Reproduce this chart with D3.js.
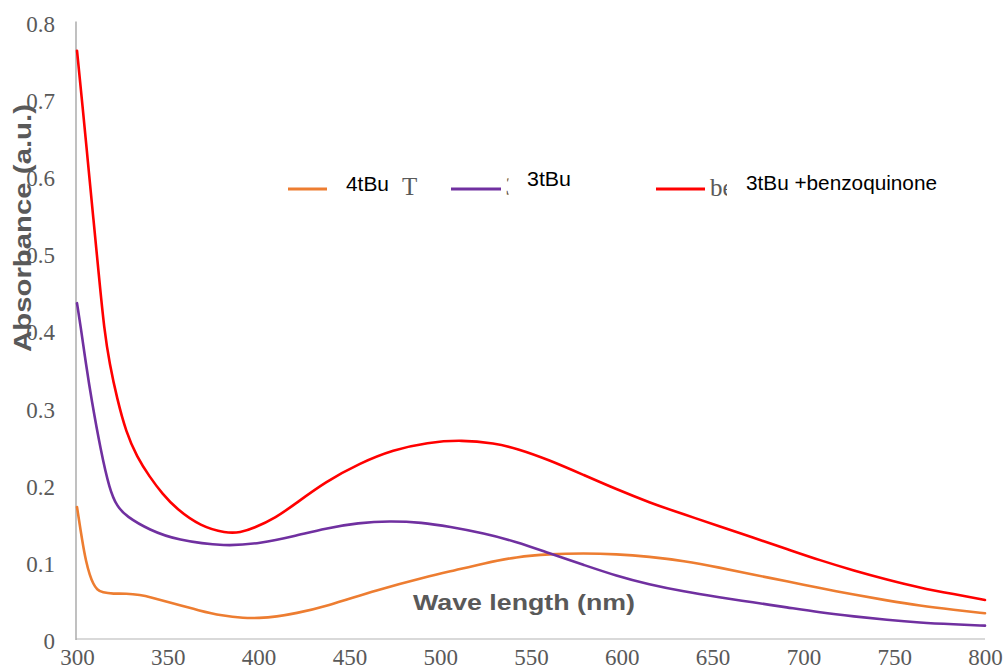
<!DOCTYPE html>
<html><head><meta charset="utf-8">
<script src="https://cdn.jsdelivr.net/npm/d3@7"></script>
<style>body{margin:0;background:#fff}svg{display:block}</style>
</head><body>
<svg id="chart" width="1003" height="670"></svg>
<script>
// ---- data ----
const xTicks = [300, 350, 400, 450, 500, 550, 600, 650, 700, 750, 800];
const yTicks = [0, 0.1, 0.2, 0.3, 0.4, 0.5, 0.6, 0.7, 0.8];
const yTickLabels = ["0", "0.1", "0.2", "0.3", "0.4", "0.5", "0.6", "0.7", "0.8"];

const seriesNames = ["4tBu", "3tBu", "3tBu +benzoquinone"];
const seriesColors = ["#ED7D31", "#7030A0", "#FF0000"];

const nm4tBu  = [300, 303, 305, 307, 309, 311, 314, 320, 327, 335, 340, 353, 367, 380, 392, 400, 410, 420, 437, 465, 493, 508, 524, 542, 560, 579, 597, 615, 634, 654, 672, 691, 709, 728, 746, 764, 783, 800];
const abs4tBu = [0.171, 0.125, 0.100, 0.083, 0.071, 0.064, 0.060, 0.0585, 0.059, 0.057, 0.0545, 0.046, 0.037, 0.030, 0.027, 0.027, 0.029, 0.033, 0.042, 0.0636, 0.081, 0.089, 0.098, 0.1065, 0.110, 0.111, 0.110, 0.1067, 0.1012, 0.0925, 0.0835, 0.0748, 0.066, 0.0574, 0.0499, 0.0432, 0.0378, 0.0333];

const nm3tBu  = [300, 302, 305, 308, 313, 318, 322, 327, 340, 355, 382, 401, 419, 437, 455, 472, 490, 505, 524, 542, 560, 579, 597, 615, 634, 654, 672, 691, 709, 728, 746, 764, 783, 800];
const abs3tBu = [0.435, 0.405, 0.355, 0.31, 0.245, 0.193, 0.172, 0.159, 0.141, 0.128, 0.1197, 0.124, 0.1327, 0.1436, 0.1505, 0.153, 0.151, 0.1455, 0.137, 0.126, 0.111, 0.096, 0.0817, 0.0705, 0.0615, 0.054, 0.0475, 0.041, 0.0345, 0.0292, 0.0248, 0.0212, 0.019, 0.0173];

const nmBQ  = [300, 303, 306, 309, 312, 315, 318, 322, 327, 333, 340, 347, 355, 368, 382, 390, 397, 410, 419, 437, 456, 474, 493, 512, 530, 542, 560, 579, 597, 615, 634, 654, 672, 691, 709, 728, 746, 764, 783, 800];
const absBQ = [0.762, 0.692, 0.618, 0.545, 0.472, 0.400, 0.356, 0.312, 0.268, 0.236, 0.210, 0.188, 0.168, 0.146, 0.137, 0.138, 0.143, 0.158, 0.173, 0.204, 0.228, 0.245, 0.2547, 0.258, 0.2535, 0.247, 0.232, 0.2125, 0.194, 0.177, 0.1615, 0.146, 0.1315, 0.1165, 0.102, 0.0885, 0.077, 0.0665, 0.058, 0.0505];

const xTitle = "Wave length (nm)";
const yTitle = "Absorbance (a.u.)";

// ---- drawing ----
const svg = d3.select("#chart");
const x = d3.scaleLinear().domain([300, 800]).range([77, 985]);
const y = d3.scaleLinear().domain([0, 0.8]).range([639, 21.4]);

const serif = "'Liberation Serif','Times New Roman',serif";
const sans = "'Liberation Sans',Arial,sans-serif";
const grey = "#595959";

// axes lines
svg.append("line").attr("x1", x(300) - 1).attr("x2", x(800)).attr("y1", y(0)).attr("y2", y(0))
  .attr("stroke", "#d9d9d9").attr("stroke-width", 2);
svg.append("line").attr("x1", x(300) - 1).attr("x2", x(300) - 1).attr("y1", y(0.8)).attr("y2", y(0) + 1)
  .attr("stroke", "#a6a6a6").attr("stroke-width", 1.4);

// y tick labels
const yAxis = d3.axisLeft(y).tickValues(yTicks).tickSize(0).tickPadding(0)
  .tickFormat((d, i) => yTickLabels[i]);
const gy = svg.append("g").attr("transform", "translate(55,0)").call(yAxis);
gy.select(".domain").remove();
gy.selectAll("text").attr("font-family", serif).attr("font-size", 23).attr("fill", grey)
  .attr("dy", "0.42em");

// x tick labels
const xAxis = d3.axisBottom(x).tickValues(xTicks).tickSize(0).tickPadding(0).tickFormat(d3.format("d"));
const gx = svg.append("g").attr("transform", "translate(0,649)").call(xAxis);
gx.select(".domain").remove();
gx.selectAll("text").attr("font-family", serif).attr("font-size", 23).attr("fill", grey)
  .attr("dy", "0.71em").attr("y", 0);

// curves
const series = [
  {nm: nm4tBu, abs: abs4tBu},
  {nm: nm3tBu, abs: abs3tBu},
  {nm: nmBQ, abs: absBQ}
];
const line = d3.line().x(d => x(d[0])).y(d => y(d[1])).curve(d3.curveBasis);
series.forEach((s, i) => {
  const pts = s.nm.map((v, j) => [v, s.abs[j]]);
  svg.append("path").datum(pts).attr("d", line)
    .attr("fill", "none").attr("stroke", seriesColors[i]).attr("stroke-width", 2.6)
    .attr("stroke-linejoin", "round").attr("stroke-linecap", "round");
});

// axis titles
svg.append("text").attr("x", 524).attr("y", 610).attr("text-anchor", "middle")
  .attr("font-family", sans).attr("font-weight", "bold").attr("font-size", 21.5).attr("fill", grey)
  .attr("textLength", 222).attr("lengthAdjust", "spacingAndGlyphs").text(xTitle);
svg.append("text").attr("transform", "translate(31,228) rotate(-90)").attr("text-anchor", "middle")
  .attr("font-family", sans).attr("font-weight", "bold").attr("font-size", 24).attr("fill", grey)
  .attr("textLength", 248).attr("lengthAdjust", "spacingAndGlyphs").text(yTitle);

// legend
const defs = svg.append("defs");
defs.append("clipPath").attr("id", "clip3").append("rect").attr("x", 500).attr("y", 160).attr("width", 8.5).attr("height", 50);
defs.append("clipPath").attr("id", "clipbe").append("rect").attr("x", 706).attr("y", 160).attr("width", 21).attr("height", 50);

const legendLines = [[288, 327, 189], [451, 501, 189], [656, 705, 189]];
const legendText = [[346, 190.5, 43], [527, 186, 44], [746, 189.5, 191]];
legendLines.forEach((l, i) => {
  svg.append("line").attr("x1", l[0]).attr("x2", l[1]).attr("y1", l[2]).attr("y2", l[2])
    .attr("stroke", seriesColors[i]).attr("stroke-width", 3);
  const t = legendText[i];
  svg.append("text").attr("x", t[0]).attr("y", t[1]).attr("font-family", sans).attr("font-size", 20)
    .attr("fill", "#000").attr("textLength", t[2]).attr("lengthAdjust", "spacingAndGlyphs").text(seriesNames[i]);
});
// clipped fragments of overlapped labels
svg.append("text").attr("x", 402).attr("y", 195).attr("font-family", serif).attr("font-size", 25)
  .attr("fill", grey).text("T");
svg.append("text").attr("x", 505.5).attr("y", 195).attr("font-family", serif).attr("font-size", 25)
  .attr("fill", grey).attr("clip-path", "url(#clip3)").text("3");
svg.append("text").attr("x", 710).attr("y", 196).attr("font-family", serif).attr("font-size", 25)
  .attr("fill", grey).attr("clip-path", "url(#clipbe)").text("be");
</script>
</body></html>
